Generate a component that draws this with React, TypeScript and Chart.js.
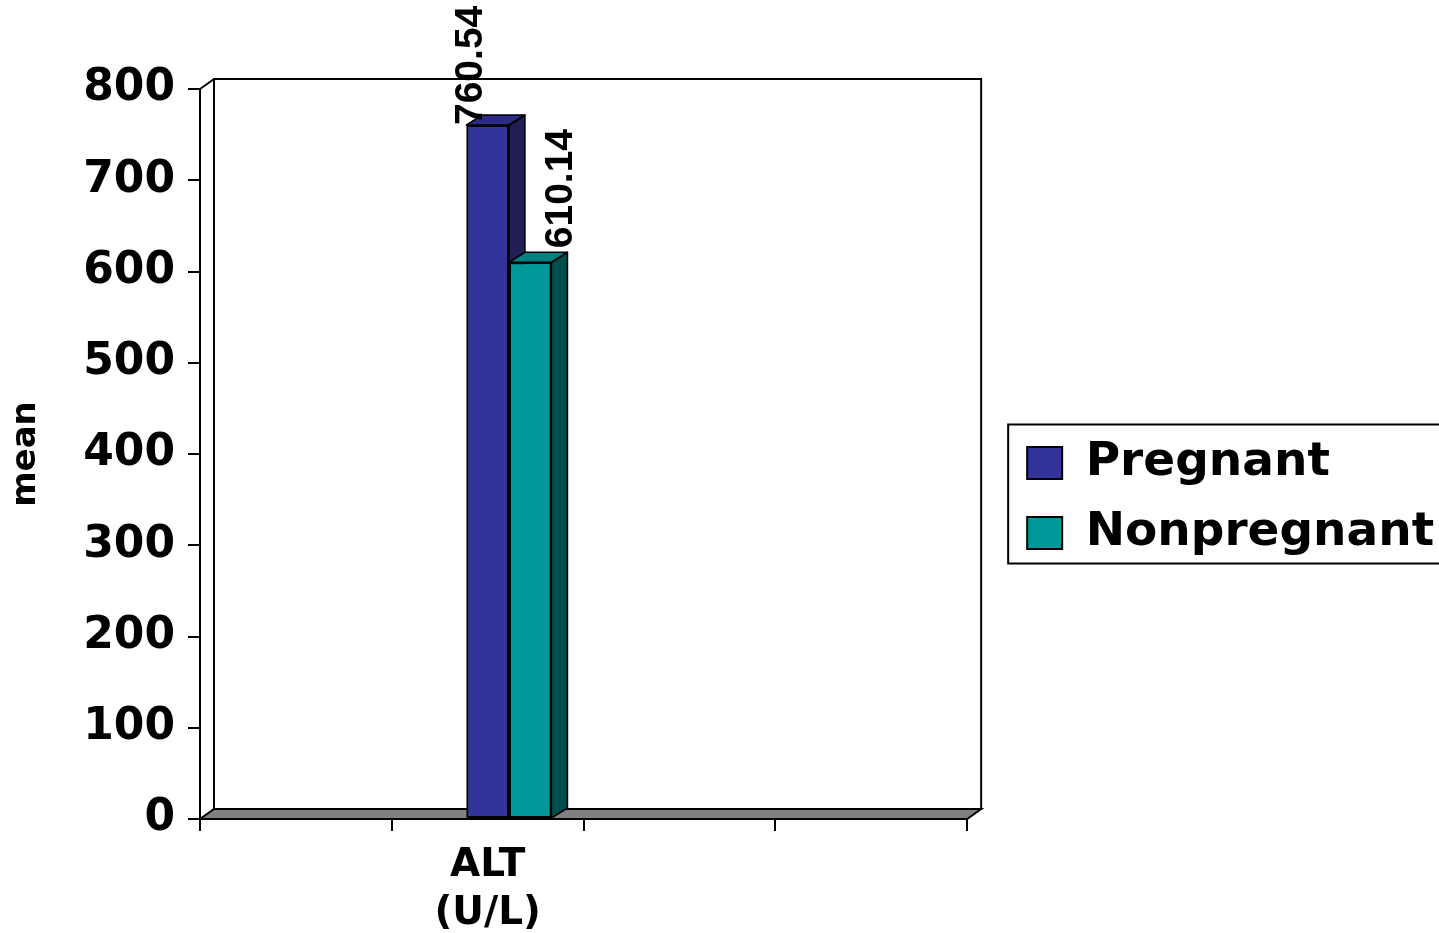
import React, { useEffect, useRef } from "react";
import { Chart, registerables } from "chart.js";

Chart.register(...registerables);

// ---- data ----
const categories: string[][] = [[""], ["ALT", "(U/L)"], [""], [""]];
const pregnantValues: (number | null)[] = [null, 760.54, null, null];
const nonpregnantValues: (number | null)[] = [null, 610.14, null, null];
const spacerValues: (number | null)[] = [null, null, null, null];
const seriesNames = ["Pregnant", "Nonpregnant"];
const yMin = 0;
const yMax = 800;
const yStep = 100;
const yTitle = "mean";

// ---- styles ----
const FONT = "'DejaVu Sans', sans-serif";
const LABEL_FONT = "'Liberation Sans', Arial, sans-serif";
const WALL_DX = 14;
const WALL_DY = -10;
const BAR_DX = 16;
const BAR_DY = -10;

const threeD = {
  id: "threeD",
  afterLayout(chart: any) {
    // let the legend box run to the right edge of the canvas (it is cut off there)
    const lg = chart.legend;
    if (lg) {
      lg.right = chart.width;
      lg.width = chart.width - lg.left;
    }
  },
  beforeDatasetsDraw(chart: any) {
    const { ctx, chartArea: a } = chart;
    ctx.save();
    ctx.lineWidth = 2;
    ctx.strokeStyle = "#000";
    // back wall
    ctx.beginPath();
    ctx.rect(a.left + WALL_DX, a.top + WALL_DY, a.right - a.left, a.bottom - a.top);
    ctx.stroke();
    // left wall top connector
    ctx.beginPath();
    ctx.moveTo(a.left, a.top);
    ctx.lineTo(a.left + WALL_DX, a.top + WALL_DY);
    ctx.stroke();
    // floor
    ctx.beginPath();
    ctx.moveTo(a.left, a.bottom);
    ctx.lineTo(a.right, a.bottom);
    ctx.lineTo(a.right + WALL_DX, a.bottom + WALL_DY);
    ctx.lineTo(a.left + WALL_DX, a.bottom + WALL_DY);
    ctx.closePath();
    ctx.fillStyle = "#808080";
    ctx.fill();
    ctx.stroke();
    ctx.restore();
  },
  afterDatasetsDraw(chart: any) {
    const ctx = chart.ctx;
    chart.data.datasets.forEach((ds: any, i: number) => {
      if (!ds.sideColor) return;
      const meta = chart.getDatasetMeta(i);
      meta.data.forEach((el: any, j: number) => {
        if (ds.data[j] == null) return;
        const { x, y, base, width } = el.getProps(["x", "y", "base", "width"], true);
        el.draw(ctx);
        const l = x - width / 2;
        const r = x + width / 2;
        ctx.save();
        ctx.lineWidth = 1.5;
        ctx.strokeStyle = "#000";
        ctx.lineJoin = "round";
        // side face
        ctx.beginPath();
        ctx.moveTo(r, y);
        ctx.lineTo(r + BAR_DX, y + BAR_DY);
        ctx.lineTo(r + BAR_DX, base + BAR_DY);
        ctx.lineTo(r, base);
        ctx.closePath();
        ctx.fillStyle = ds.sideColor;
        ctx.fill();
        ctx.stroke();
        // top face
        ctx.beginPath();
        ctx.moveTo(l, y);
        ctx.lineTo(r, y);
        ctx.lineTo(r + BAR_DX, y + BAR_DY);
        ctx.lineTo(l + BAR_DX, y + BAR_DY);
        ctx.closePath();
        ctx.fillStyle = ds.topColor;
        ctx.fill();
        ctx.stroke();
        ctx.restore();
      });
    });
  },
  afterDraw(chart: any) {
    const ctx = chart.ctx;
    // value labels (rotated)
    chart.data.datasets.forEach((ds: any, i: number) => {
      if (!ds.labelOffset) return;
      const meta = chart.getDatasetMeta(i);
      meta.data.forEach((el: any, j: number) => {
        const v = ds.data[j];
        if (v == null) return;
        const { x, y } = el.getProps(["x", "y"], true);
        ctx.save();
        ctx.translate(x + ds.labelOffset[0], y + ds.labelOffset[1]);
        ctx.rotate(-Math.PI / 2);
        ctx.font = `bold 39px ${LABEL_FONT}`;
        ctx.fillStyle = "#000";
        ctx.textAlign = "left";
        ctx.textBaseline = "middle";
        ctx.fillText(v.toFixed(2), 0, 0);
        ctx.restore();
      });
    });
    // legend border
    const lg = chart.legend;
    if (lg && lg.legendHitBoxes && lg.legendHitBoxes.length) {
      const hb = lg.legendHitBoxes;
      const first = hb[0];
      const last = hb[hb.length - 1];
      const left = first.left - 19;
      const top = first.top - 15;
      const bottom = last.top + last.height + 7;
      ctx.save();
      ctx.lineWidth = 2;
      ctx.strokeStyle = "#000";
      ctx.strokeRect(left, top, chart.width + 10 - left, bottom - top);
      ctx.restore();
    }
  },
};

export default function App() {
  const ref = useRef<HTMLCanvasElement | null>(null);

  useEffect(() => {
    document.body.style.margin = "0";
    const canvas = ref.current;
    if (!canvas) return;
    const chart = new Chart(canvas, {
      type: "bar",
      data: {
        labels: categories as any,
        datasets: [
          {
            label: "",
            data: spacerValues,
            backgroundColor: "rgba(0,0,0,0)",
          },
          {
            label: seriesNames[0],
            data: pregnantValues,
            backgroundColor: "#333399",
            borderColor: "#000",
            borderWidth: 2,
            borderSkipped: false,
            sideColor: "#1f1f55",
            topColor: "#2b2b85",
            labelOffset: [-16, 0],
          } as any,
          {
            label: seriesNames[1],
            data: nonpregnantValues,
            backgroundColor: "#009999",
            borderColor: "#000",
            borderWidth: 2,
            borderSkipped: false,
            sideColor: "#004d4d",
            topColor: "#008080",
            labelOffset: [31, -14],
          } as any,
        ],
      },
      options: {
        animation: false,
        responsive: true,
        maintainAspectRatio: false,
        datasets: {
          bar: { categoryPercentage: 0.665, barPercentage: 1.0 },
        },
        layout: { padding: { top: 63, bottom: 0, left: 0, right: 234 } },
        plugins: {
          title: {
            display: true,
            text: "",
            padding: 0,
            font: { size: 20, lineHeight: 1.3 },
          },
          tooltip: { enabled: false },
          legend: {
            display: true,
            position: "right",
            align: "center",
            labels: {
              filter: (item: any) => item.text !== "",
              boxWidth: 35,
              boxHeight: 32,
              padding: 23,
              color: "#000",
              font: { family: FONT, size: 47, weight: "bold" },
            },
          },
        },
        scales: {
          x: {
            type: "category",
            offset: true,
            grid: {
              offset: true,
              drawOnChartArea: false,
              drawTicks: true,
              tickLength: 12,
              color: "#000",
              lineWidth: 2,
            },
            border: { display: true, color: "#000", width: 2 },
            ticks: {
              autoSkip: false,
              maxRotation: 0,
              minRotation: 0,
              padding: 11,
              color: "#000",
              font: { family: FONT, size: 39, weight: "bold", lineHeight: 1.23 },
            },
            afterFit: (s: any) => {
              s.height = 114;
            },
          },
          y: {
            type: "linear",
            position: "left",
            min: yMin,
            max: yMax,
            grid: {
              drawOnChartArea: false,
              drawTicks: true,
              tickLength: 12,
              color: "#000",
              lineWidth: 2,
            },
            border: { display: true, color: "#000", width: 2 },
            ticks: {
              stepSize: yStep,
              padding: 13,
              color: "#000",
              font: { family: FONT, size: 44, weight: "bold" },
            },
            title: {
              display: true,
              text: yTitle,
              color: "#000",
              padding: { top: 6, bottom: 0 },
              font: { family: FONT, size: 34, weight: "bold" },
            },
            afterFit: (s: any) => {
              s.width = 200;
            },
          },
          depth: {
            type: "linear",
            position: "right",
            display: true,
            grid: { display: false, drawOnChartArea: false },
            border: { display: false },
            ticks: { display: false },
            afterFit: (s: any) => {
              s.width = 37;
            },
          },
        },
      } as any,
      plugins: [threeD],
    });
    return () => chart.destroy();
  }, []);

  return (
    <div style={{ width: "1439px", height: "933px", position: "relative", background: "#fff" }}>
      <canvas ref={ref} />
    </div>
  );
}
